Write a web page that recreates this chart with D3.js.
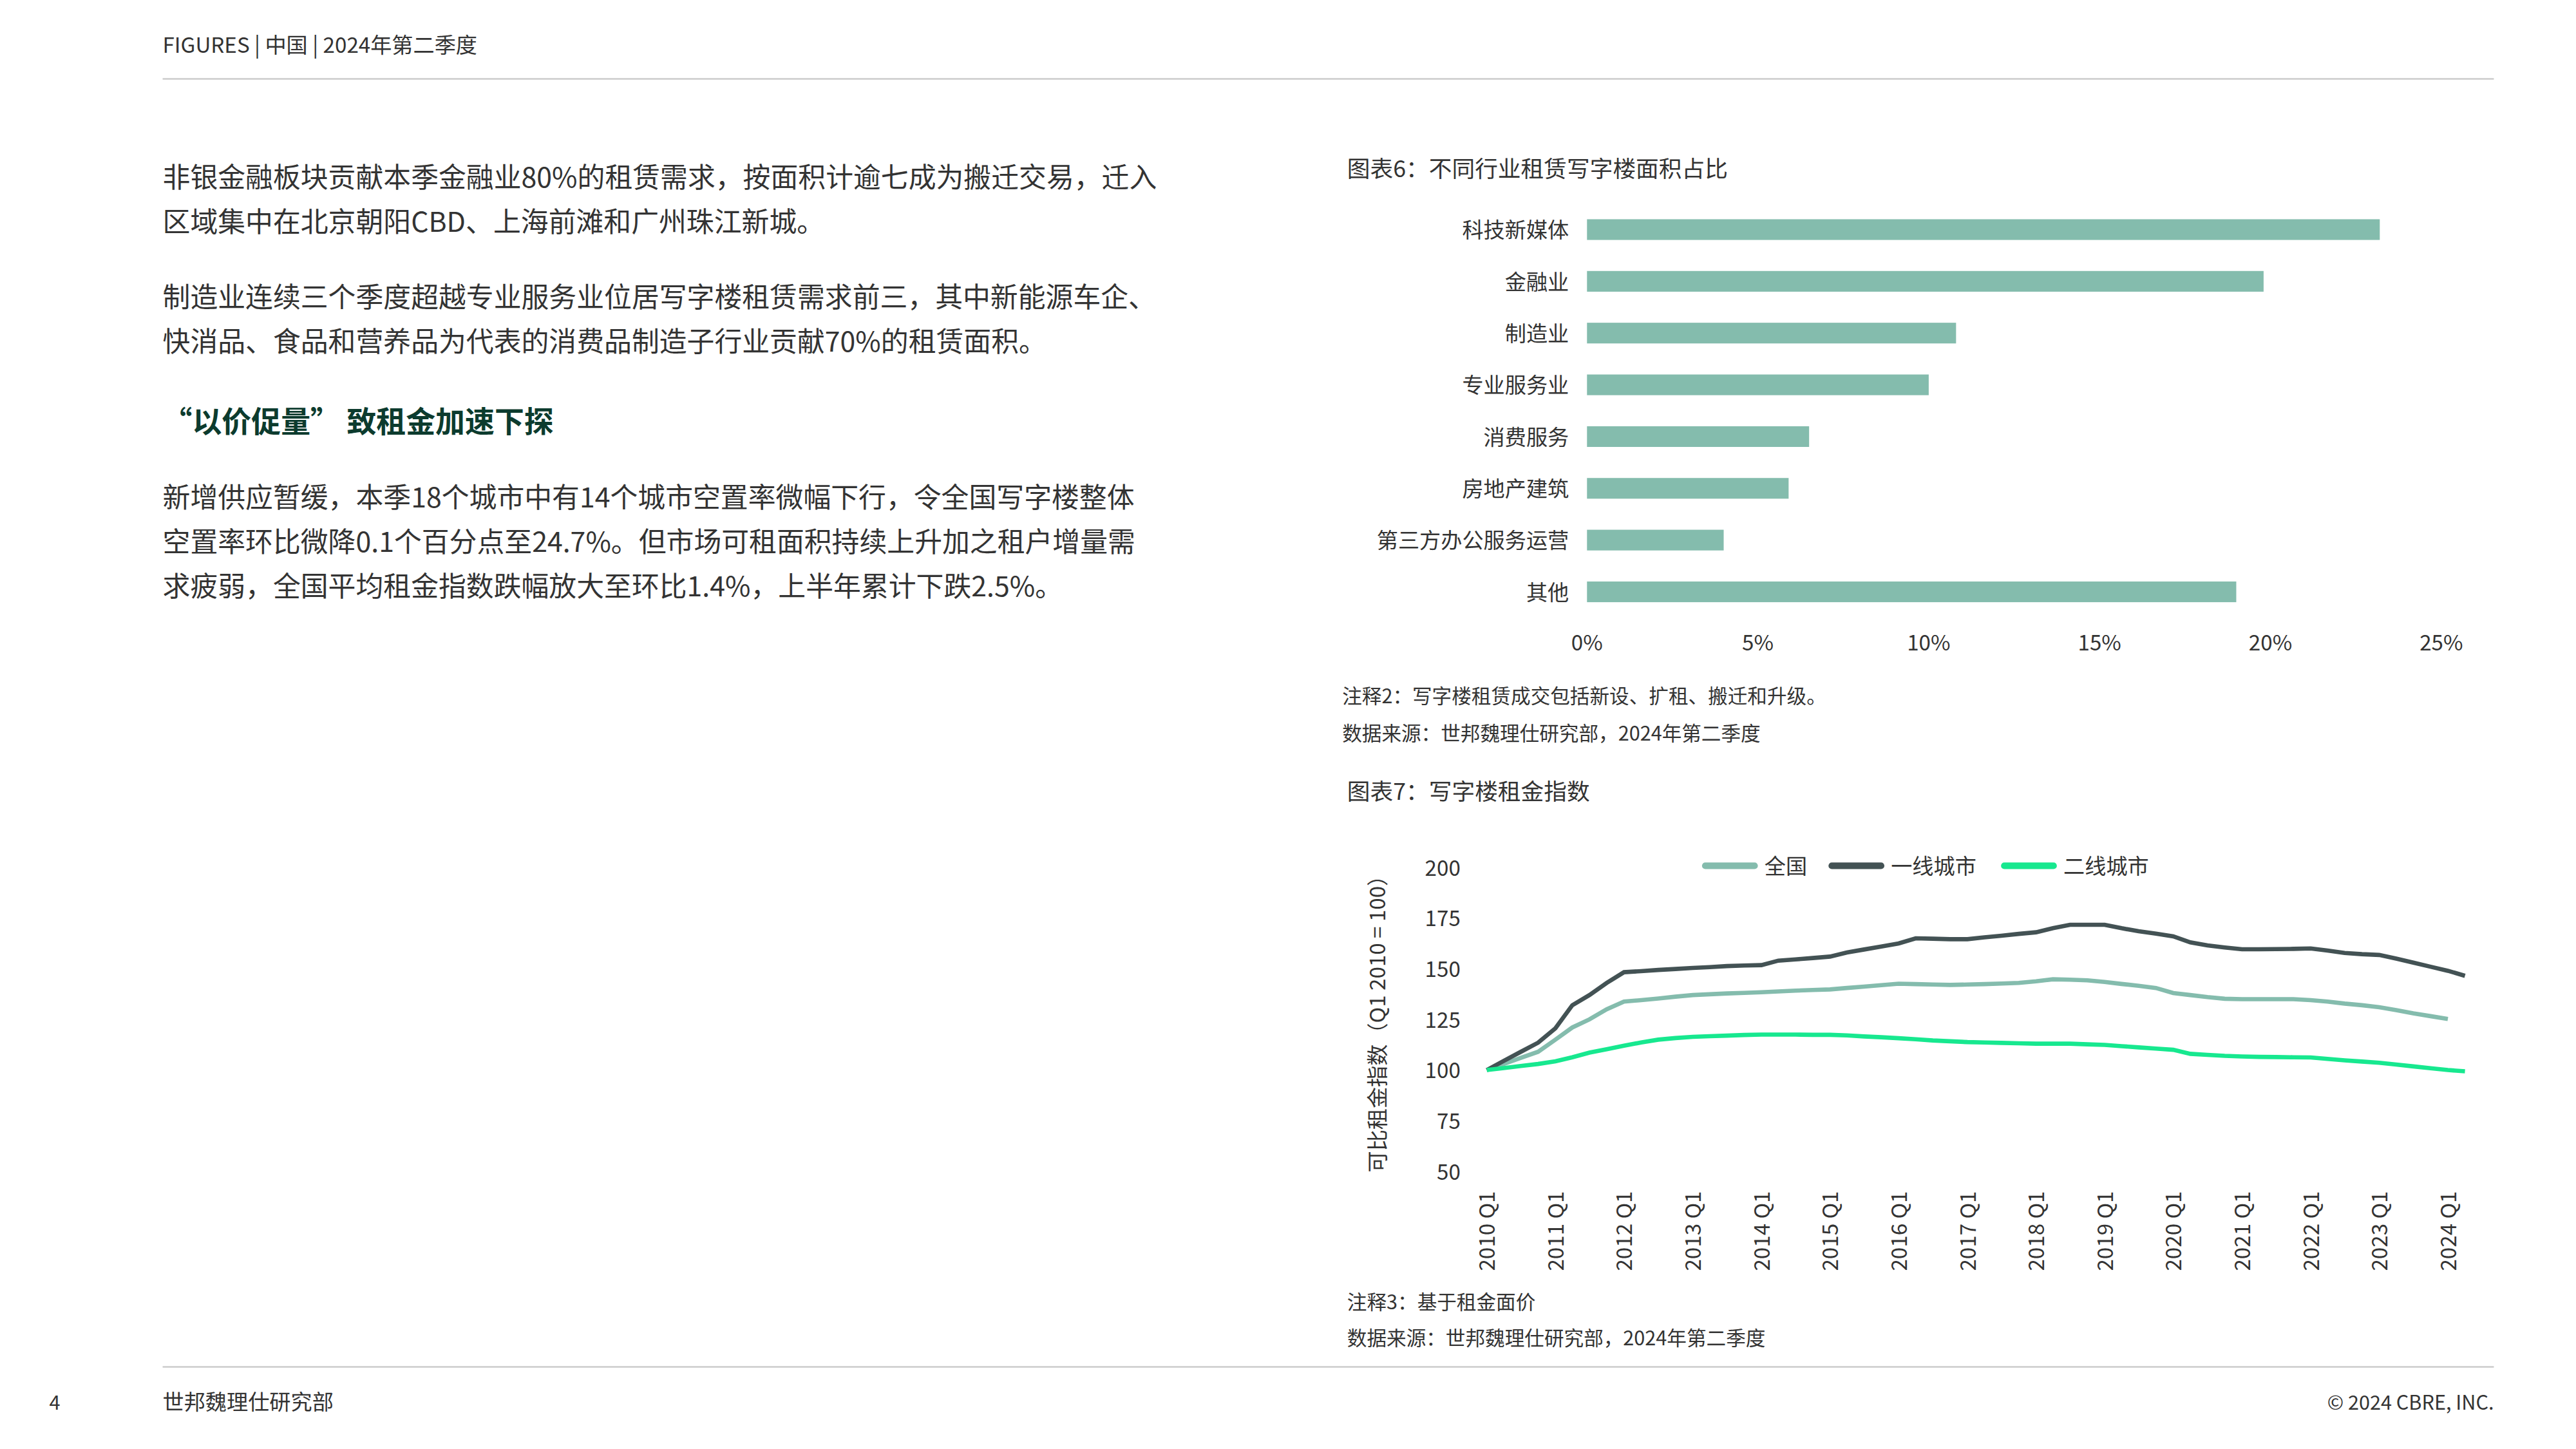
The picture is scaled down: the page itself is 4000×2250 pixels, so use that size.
<!DOCTYPE html>
<html><head><meta charset="utf-8">
<script src="https://cdn.jsdelivr.net/npm/d3@7"></script>
<style>
body{margin:0;background:#fff}
text{font-family:"Noto Sans CJK SC","Noto Sans",sans-serif;fill:#333}
</style></head>
<body><svg id="page" width="4000" height="2250" viewBox="0 0 1568 882"></svg>
<script>
// bar chart data
const sectors = ["科技新媒体","金融业","制造业","专业服务业","消费服务","房地产建筑","第三方办公服务运营","其他"];
const shares = [23.2, 19.8, 10.8, 10.0, 6.5, 5.9, 4.0, 19.0];
const pctTicks = [0, 5, 10, 15, 20, 25];

// rent index, quarterly 2010Q1 - 2024Q2
const national = [100,103,106,109,115,121,125,130,133.8,134.5,135.3,136.2,137,137.4,137.8,138.1,138.4,138.8,139.2,139.5,139.8,140.5,141.2,141.9,142.6,142.4,142.2,142,142.2,142.4,142.7,143,143.8,144.8,144.6,144.3,143.5,142.5,141.6,140.5,138,137,136,135.2,135,135,135,135,134.5,133.8,132.8,132,131,129.6,128,126.6,125.2];
const tier1 = [100,104.5,109,113.5,120.6,132,137,143,148.3,148.8,149.4,149.9,150.4,150.8,151.3,151.6,151.8,154,154.6,155.3,156,158,159.5,161,162.5,165,164.8,164.6,164.6,165.5,166.3,167.2,168,170,171.7,171.7,171.7,170,168.5,167.3,166,163,161.5,160.5,159.6,159.6,159.7,159.8,160,159,157.8,157.2,156.8,155,153,151,149,146.5];
const tier2 = [100,101,102,103,104.3,106.3,108.6,110.3,112,113.6,115,115.8,116.4,116.7,117,117.3,117.5,117.5,117.5,117.4,117.4,117.1,116.6,116.2,115.7,115.2,114.6,114.2,113.8,113.6,113.4,113.2,113,113,113,112.7,112.4,111.8,111.2,110.6,110,108,107.5,107,106.7,106.5,106.4,106.3,106.2,105.5,104.8,104.2,103.6,102.7,101.8,100.9,100,99.4];
const yTicks = [50, 75, 100, 125, 150, 175, 200];
const years = d3.range(2010, 2025);
const seriesNames = ["全国","一线城市","二线城市"];
const seriesColors = ["#84bcad","#435254","#17e88f"];

const svg = d3.select("#page");

// header / footer
svg.append("text").attr("x",99).attr("y",32).attr("font-size",13).attr("fill","#444").text("FIGURES  | 中国 |  2024年第二季度");
svg.append("line").attr("x1",99).attr("x2",1518).attr("y1",48).attr("y2",48).attr("stroke","#ccc");
svg.append("line").attr("x1",99).attr("x2",1518).attr("y1",832).attr("y2",832).attr("stroke","#ccc");
svg.append("text").attr("x",30).attr("y",858).attr("font-size",12).text("4");
svg.append("text").attr("x",99).attr("y",858).attr("font-size",13).text("世邦魏理仕研究部");
svg.append("text").attr("x",1518).attr("y",858).attr("font-size",12).attr("text-anchor","end").attr("fill","#555").text("© 2024 CBRE, INC.");

// body text
const body = [
  [114,"非银金融板块贡献本季金融业80%的租赁需求，按面积计逾七成为搬迁交易，迁入"],
  [141,"区域集中在北京朝阳CBD、上海前滩和广州珠江新城。"],
  [187,"制造业连续三个季度超越专业服务业位居写字楼租赁需求前三，其中新能源车企、"],
  [214,"快消品、食品和营养品为代表的消费品制造子行业贡献70%的租赁面积。"],
  [309,"新增供应暂缓，本季18个城市中有14个城市空置率微幅下行，令全国写字楼整体"],
  [336,"空置率环比微降0.1个百分点至24.7%。但市场可租面积持续上升加之租户增量需"],
  [363,"求疲弱，全国平均租金指数跌幅放大至环比1.4%，上半年累计下跌2.5%。"]
];
body.forEach(([y,t]) => svg.append("text").attr("x",99).attr("y",y).attr("font-size",16.8).attr("fill","#444").text(t));
svg.append("text").attr("x",99).attr("y",263).attr("font-size",18).attr("font-weight","bold").style("fill","#0c3b2e").text("“以价促量” 致租金加速下探");

// chart 6
svg.append("text").attr("x",820).attr("y",108).attr("font-size",14).text("图表6：不同行业租赁写字楼面积占比");
const x6 = d3.scaleLinear().domain([0,25]).range([966,1486]);
const y6 = d3.scaleBand().domain(sectors).range([124,376]).paddingInner(0.6).paddingOuter(0.3);
svg.append("g").selectAll("rect").data(sectors).join("rect")
  .attr("x",x6(0)).attr("y",d=>y6(d)).attr("height",y6.bandwidth())
  .attr("width",(d,i)=>x6(shares[i])-x6(0)).attr("fill","#84bcad");
svg.append("g").selectAll("text").data(sectors).join("text")
  .attr("x",955).attr("y",d=>y6(d)+y6.bandwidth()/2+5).attr("text-anchor","end").attr("font-size",13).text(d=>d);
svg.append("g").selectAll("text").data(pctTicks).join("text")
  .attr("x",d=>x6(d)).attr("y",396).attr("text-anchor","middle").attr("font-size",13).text(d=>d+"%");
svg.append("text").attr("x",817).attr("y",428).attr("font-size",12).attr("fill","#555").text("注释2：写字楼租赁成交包括新设、扩租、搬迁和升级。");
svg.append("text").attr("x",817).attr("y",451).attr("font-size",12).attr("fill","#555").text("数据来源：世邦魏理仕研究部，2024年第二季度");

// chart 7
svg.append("text").attr("x",820).attr("y",487).attr("font-size",14).text("图表7：写字楼租金指数");
const q0 = new Date(2010,0,1);
const qDate = i => new Date(2010 + Math.floor(i/4), (i%4)*3, 1);
const x7 = d3.scaleTime().domain([q0, new Date(2024,0,1)]).range([905,1490]);
const y7 = d3.scaleLinear().domain([50,200]).range([713,528]);
svg.append("g").selectAll("text").data(yTicks).join("text")
  .attr("x",889).attr("y",d=>y7(d)+5).attr("text-anchor","end").attr("font-size",13).text(d=>d);
svg.append("g").selectAll("text").data(years).join("text")
  .attr("transform",d=>`translate(${x7(new Date(d,0,1))+5},725) rotate(-90)`)
  .attr("text-anchor","end").attr("font-size",13).text(d=>d+" Q1");
svg.append("text").attr("transform","translate(843,620) rotate(-90)").attr("text-anchor","middle")
  .attr("font-size",13).text("可比租金指数（Q1 2010 = 100）");
const line = d3.line().x((d,i)=>x7(qDate(i))).y(d=>y7(d)).curve(d3.curveLinear);
[national,tier1,tier2].forEach((s,k)=>{
  svg.append("path").attr("d",line(s)).attr("fill","none").attr("stroke",seriesColors[k]).attr("stroke-width",2.6);
});
const legX = [1038,1115,1220];
seriesNames.forEach((n,k)=>{
  svg.append("line").attr("x1",legX[k]).attr("x2",legX[k]+30).attr("y1",527).attr("y2",527)
    .attr("stroke",seriesColors[k]).attr("stroke-width",4).attr("stroke-linecap","round");
  svg.append("text").attr("x",legX[k]+36).attr("y",532).attr("font-size",13).text(n);
});
svg.append("text").attr("x",820).attr("y",797).attr("font-size",12).attr("fill","#555").text("注释3：基于租金面价");
svg.append("text").attr("x",820).attr("y",819).attr("font-size",12).attr("fill","#555").text("数据来源：世邦魏理仕研究部，2024年第二季度");
</script></body></html>
